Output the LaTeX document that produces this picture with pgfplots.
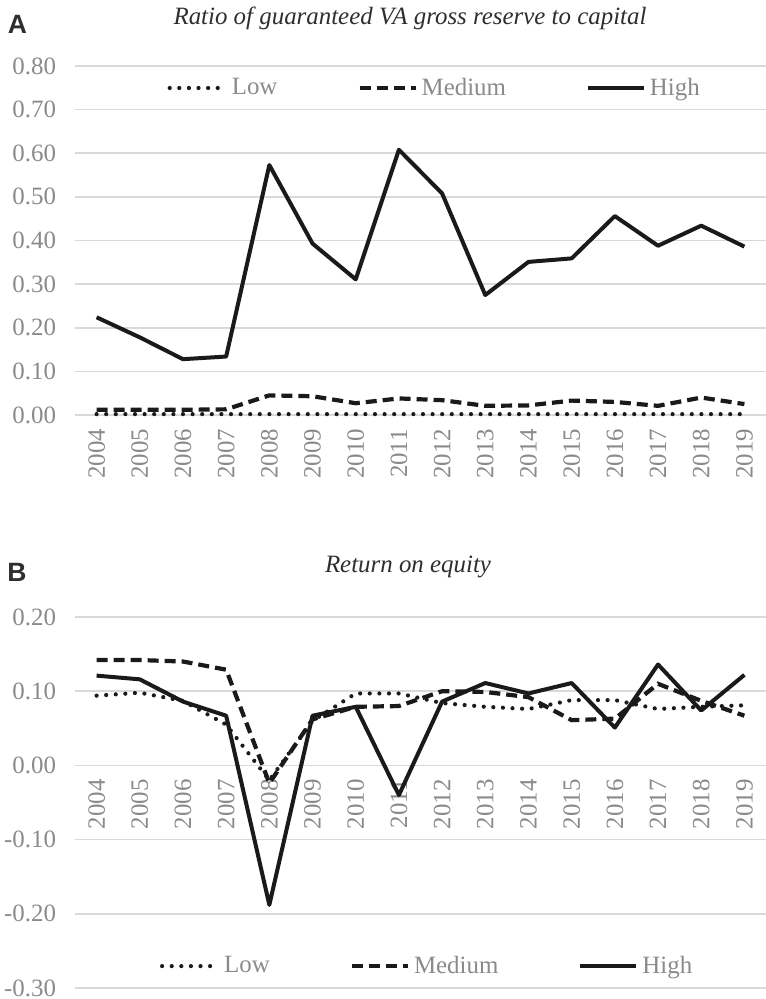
\documentclass[border=0pt]{standalone}
\usepackage{pgfplots}
\pgfplotsset{compat=1.18}
\usepackage{pgfplotstable}
\usepackage{fontspec}
\setmainfont{Liberation Serif}
\newfontfamily\panelfont{Liberation Sans}
\definecolor{tickgray}{HTML}{8A8A8A}
\definecolor{gridgray}{HTML}{D9D9D9}
\definecolor{titlegray}{HTML}{2E2E2E}
\definecolor{linecol}{HTML}{1A1A1A}

\pgfplotstableread{
idx low medium high
0 0.002 0.012 0.224
1 0.002 0.012 0.178
2 0.002 0.012 0.128
3 0.002 0.013 0.134
4 0.002 0.045 0.573
5 0.002 0.043 0.393
6 0.002 0.027 0.311
7 0.002 0.038 0.608
8 0.002 0.034 0.508
9 0.002 0.021 0.275
10 0.002 0.022 0.351
11 0.002 0.033 0.359
12 0.002 0.030 0.456
13 0.002 0.021 0.388
14 0.002 0.040 0.434
15 0.002 0.025 0.386
}\dataA

\pgfplotstableread{
idx low medium high
0 0.094 0.142 0.121
1 0.098 0.142 0.116
2 0.087 0.140 0.086
3 0.055 0.129 0.067
4 -0.020 -0.024 -0.188
5 0.060 0.062 0.067
6 0.097 0.079 0.079
7 0.097 0.080 -0.040
8 0.084 0.100 0.086
9 0.079 0.099 0.111
10 0.076 0.092 0.097
11 0.088 0.061 0.111
12 0.088 0.063 0.051
13 0.076 0.110 0.136
14 0.079 0.087 0.074
15 0.081 0.067 0.122
}\dataB

\newcommand{\tfont}{\fontsize{12.5}{14}\selectfont}

\pgfplotsset{
  panel/.style={
    scale only axis,
    width=345.5bp,
    xmin=-0.5, xmax=15.5,
    xtick={0,...,15},
    xticklabels={2004,2005,2006,2007,2008,2009,2010,2011,2012,2013,2014,2015,2016,2017,2018,2019},
    axis x line=middle,
    axis y line=left,
    axis line style={draw=none},
    major tick length=0pt,
    ymajorgrids,
    grid style={gridgray, line width=0.8bp},
    /pgf/number format/assume math mode=true,
    /pgf/number format/.cd, fixed, fixed zerofill, precision=2, /pgfplots/.cd,
    yticklabel style={font=\tfont, text=tickgray, xshift=-6bp},
    xticklabel style={font=\tfont, text=tickgray, rotate=90, anchor=east, yshift=0bp, xshift=-3.5bp},
    legend columns=3,
    legend style={draw=none, fill=none, font=\tfont, text=tickgray,
      /tikz/every even column/.append style={column sep=38bp},
      inner sep=0pt},
    legend cell align=left,
    legend image code/.code={\draw[##1] (0bp,0bp) -- (28bp,0bp);},
    clip=false,
  },
  lowstyle/.style={color=linecol, line width=2.1bp, line cap=round, dash pattern=on 0bp off 4.8bp},
  medstyle/.style={color=linecol, line width=2.1bp, dash pattern=on 5.5bp off 3bp},
  highstyle/.style={color=linecol, line width=2bp, line join=round},
}

\begin{document}
\begin{tikzpicture}
\useasboundingbox (0,0) rectangle (383bp,-499.5bp);

\node[font=\panelfont\bfseries\fontsize{13.3}{15}\selectfont, text=titlegray] at (8.75bp,-12.25bp) {A};
\node[font=\itshape\fontsize{12.5}{14}\selectfont, text=titlegray] at (205bp,-9bp) {Ratio of guaranteed VA gross reserve to capital};

\begin{axis}[panel,
  at={(37.5bp,-207.5bp)}, anchor=south west,
  height=174.5bp,
  ymin=0, ymax=0.8,
  ytick={0,0.1,...,0.81},
  legend style={at={(0.522,0.937)}, anchor=center},
]
\addplot[lowstyle] table[x=idx, y=low] {\dataA};
\addlegendentry{Low}
\addplot[medstyle] table[x=idx, y=medium] {\dataA};
\addlegendentry{Medium}
\addplot[highstyle] table[x=idx, y=high] {\dataA};
\addlegendentry{High}
\end{axis}

\node[font=\panelfont\bfseries\fontsize{13.3}{15}\selectfont, text=titlegray] at (8.5bp,-286bp) {B};
\node[font=\itshape\fontsize{12.5}{14}\selectfont, text=titlegray] at (204bp,-283.5bp) {Return on equity};

\begin{axis}[panel,
  at={(37.5bp,-494bp)}, anchor=south west,
  height=185.5bp,
  ymin=-0.3, ymax=0.2,
  ytick={-0.3,-0.2,-0.1,0,0.1,0.2},
  legend style={at={(0.511,0.059)}, anchor=center},
]
\addplot[lowstyle] table[x=idx, y=low] {\dataB};
\addlegendentry{Low}
\addplot[medstyle] table[x=idx, y=medium] {\dataB};
\addlegendentry{Medium}
\addplot[highstyle] table[x=idx, y=high] {\dataB};
\addlegendentry{High}
\end{axis}
\end{tikzpicture}
\end{document}
